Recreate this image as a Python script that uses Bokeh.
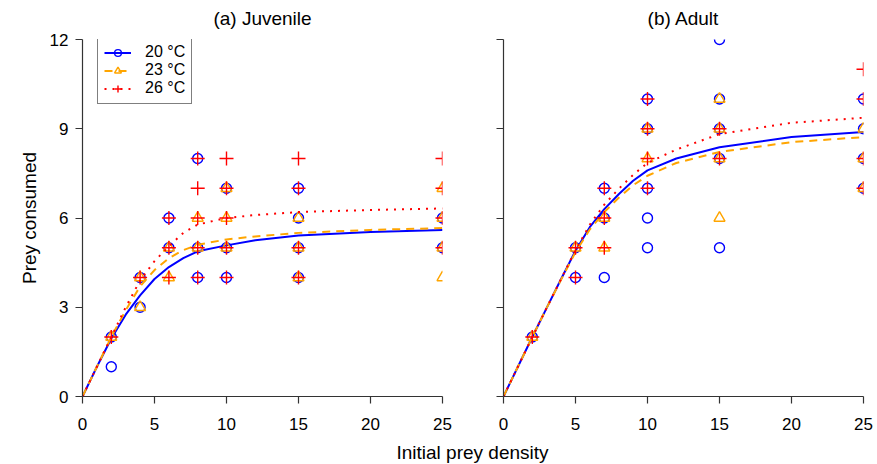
from bokeh.plotting import figure
from bokeh.layouts import row, column
from bokeh.models import Range1d, Legend, LegendItem, FixedTicker, Label
from bokeh.embed import file_html
from bokeh.resources import INLINE

FONT = "Liberation Sans"

temps = ["20 °C", "23 °C", "26 °C"]
colors = ["blue", "orange", "red"]
panel_titles = ["(a) Juvenile", "(b) Adult"]
x_ticks = [0, 5, 10, 15, 20, 25]
y_ticks = [0, 3, 6, 9, 12]

# ---- Observed data: Juvenile ----
juv20_x = [2, 2, 4, 4, 6, 6, 8, 8, 8, 10, 10, 10, 15, 15, 15, 15, 25, 25]
juv20_y = [2, 1, 4, 3, 6, 5, 8, 5, 4, 7, 5, 4, 7, 6, 5, 4, 6, 5]
juv23_x = [2, 4, 4, 6, 6, 8, 8, 10, 10, 10, 15, 15, 15, 25, 25, 25, 25]
juv23_y = [2, 4, 3, 5, 4, 6, 5, 7, 6, 5, 6, 5, 4, 7, 6, 5, 4]
juv26_x = [2, 4, 6, 6, 6, 8, 8, 8, 8, 8, 10, 10, 10, 10, 10, 15, 15, 15, 15, 25, 25, 25, 25]
juv26_y = [2, 4, 6, 5, 4, 8, 7, 6, 5, 4, 8, 7, 6, 5, 4, 8, 7, 5, 4, 8, 7, 6, 5]

# ---- Observed data: Adult ----
ad20_x = [2, 5, 5, 7, 7, 7, 10, 10, 10, 10, 10, 15, 15, 15, 15, 15, 25, 25, 25, 25]
ad20_y = [2, 5, 4, 7, 6, 4, 10, 9, 7, 6, 5, 12, 10, 9, 8, 5, 10, 9, 8, 7]
ad23_x = [2, 5, 7, 7, 10, 10, 15, 15, 15, 15, 25, 25, 25]
ad23_y = [2, 5, 6, 5, 9, 8, 10, 9, 8, 6, 9, 8, 7]
ad26_x = [2, 5, 5, 7, 7, 7, 10, 10, 10, 10, 15, 15, 25, 25, 25, 25]
ad26_y = [2, 5, 4, 7, 6, 5, 10, 9, 8, 7, 9, 8, 11, 10, 8, 7]

# ---- Fitted curves ----
juv_fit_x = [0, 1, 2, 3, 4, 5, 6, 7, 8, 10, 12, 15, 20, 25]
juv20_fit = [0, 1.0, 1.95, 2.75, 3.4, 3.95, 4.35, 4.65, 4.88, 5.08, 5.25, 5.41, 5.53, 5.6]
juv23_fit = [0, 1.0, 2.0, 2.9, 3.7, 4.25, 4.65, 4.92, 5.1, 5.28, 5.38, 5.5, 5.6, 5.66]
juv26_fit = [0, 1.0, 2.0, 3.0, 3.9, 4.55, 5.05, 5.5, 5.78, 6.0, 6.1, 6.2, 6.27, 6.32]

ad_fit_x = [0, 1, 2, 3, 4, 5, 6, 7, 8, 9, 10, 12, 15, 20, 25]
ad20_fit = [0, 1.0, 2.0, 2.98, 3.95, 4.9, 5.7, 6.3, 6.8, 7.25, 7.6, 8.0, 8.38, 8.72, 8.89]
ad23_fit = [0, 1.0, 2.0, 2.98, 3.93, 4.85, 5.62, 6.2, 6.68, 7.1, 7.42, 7.85, 8.22, 8.55, 8.72]
ad26_fit = [0, 1.0, 2.0, 2.98, 3.95, 4.92, 5.78, 6.45, 6.98, 7.45, 7.85, 8.3, 8.82, 9.2, 9.37]

FRAME_W = 360
FRAME_H = 357
TOP = 10
BOTTOM = 40
TITLE_H = 29
PAGE_W = 877


def make_panel(width, left, right, show_labels):
    p = figure(width=width, height=TOP + FRAME_H + BOTTOM,
               x_range=Range1d(0, 25), y_range=Range1d(0, 12),
               output_backend="svg", toolbar_location=None,
               min_border_left=left, min_border_right=right,
               min_border_top=TOP, min_border_bottom=BOTTOM)
    p.outline_line_color = None
    p.grid.visible = False
    p.background_fill_color = "white"
    p.border_fill_color = "white"
    p.xaxis.ticker = FixedTicker(ticks=x_ticks)
    p.yaxis.ticker = FixedTicker(ticks=y_ticks)
    for ax in (p.xaxis[0], p.yaxis[0]):
        ax.axis_line_color = "#333333"
        ax.axis_line_width = 1.2
        ax.major_tick_line_color = "#333333"
        ax.major_tick_line_width = 1.2
        ax.major_tick_out = 7
        ax.major_tick_in = 0
        ax.minor_tick_out = 0
        ax.minor_tick_in = 0
        ax.major_label_text_font = FONT
        ax.major_label_text_font_size = "17px"
        ax.major_label_text_color = "black"
        ax.major_label_standoff = 7
        ax.axis_label_text_font = FONT
        ax.axis_label_text_font_size = "19px"
        ax.axis_label_text_font_style = "normal"
        ax.axis_label_text_color = "black"
    p.xaxis.major_label_standoff = 14
    p.yaxis.major_label_orientation = "horizontal"
    if show_labels:
        p.yaxis.axis_label = "Prey consumed"
        p.yaxis.axis_label_standoff = 7
    else:
        p.yaxis.major_label_overrides = {t: "" for t in y_ticks}
    return p


def add_series(p, fit_x, fits, obs):
    items = []
    dashes = ["solid", "8 6", "2 6"]
    for i, (fy, (ox, oy)) in enumerate(zip(fits, obs)):
        c = colors[i]
        lr = p.line(fit_x, fy, line_color=c, line_width=2, line_dash=dashes[i])
        if i == 0:
            sr = p.scatter(ox, oy, marker="circle", size=10, fill_color=None,
                           line_color=c, line_width=1.4)
        elif i == 1:
            sr = p.scatter(ox, oy, marker="triangle", size=11, fill_color=None,
                           line_color=c, line_width=1.4)
        else:
            sr = p.scatter(ox, oy, marker="cross", size=14,
                           line_color=c, line_width=1.4)
        items.append(LegendItem(label=temps[i], renderers=[lr, sr]))
    return items


def text_strip(height, entries):
    f = figure(width=PAGE_W, height=height, x_range=Range1d(0, PAGE_W),
               y_range=Range1d(0, height), output_backend="svg",
               toolbar_location=None, min_border=0)
    f.axis.visible = False
    f.grid.visible = False
    f.outline_line_color = None
    for x, y, t in entries:
        f.add_layout(Label(x=x, y=y, text=t, text_align="center",
                           text_baseline="middle", text_font=FONT,
                           text_font_size="19px", text_color="black"))
    return f


pa = make_panel(473, 82, 31, True)
items = add_series(pa, juv_fit_x, [juv20_fit, juv23_fit, juv26_fit],
                   [(juv20_x, juv20_y), (juv23_x, juv23_y), (juv26_x, juv26_y)])
legend = Legend(items=items, location=(15, 292), padding=6, spacing=-1,
                glyph_width=27, glyph_height=17, label_height=17,
                label_standoff=14, label_text_font=FONT,
                label_text_font_size="16px", label_text_color="black",
                border_line_color="black",
                border_line_width=1, background_fill_alpha=1)
pa.add_layout(legend)

pb = make_panel(404, 30, 14, False)
add_series(pb, ad_fit_x, [ad20_fit, ad23_fit, ad26_fit],
           [(ad20_x, ad20_y), (ad23_x, ad23_y), (ad26_x, ad26_y)])

titles = text_strip(TITLE_H, [(262, 11, panel_titles[0]), (683, 11, panel_titles[1])])
xlab = text_strip(28, [(472, 12, "Initial prey density")])

layout = column(titles, row(pa, pb), xlab)
open("out.html", "w").write(file_html(layout, INLINE))
